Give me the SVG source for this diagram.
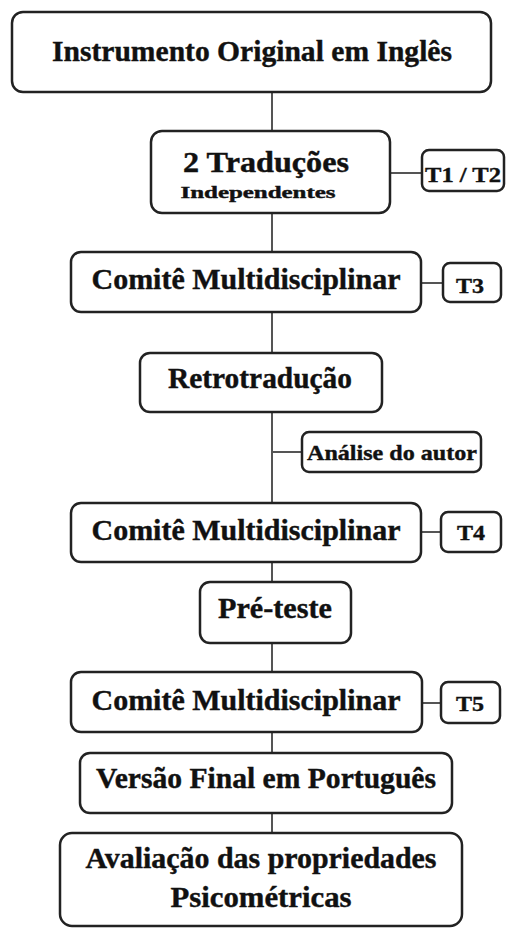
<svg xmlns="http://www.w3.org/2000/svg" width="507" height="929" viewBox="0 0 507 929">
<style>
.box{fill:#fff;stroke:#222;stroke-width:2.5}
.con{stroke:#555;stroke-width:2;fill:none}
</style>
<rect width="507" height="929" fill="#fff"/>
<g id="connectors">
<line class="con" x1="272" y1="92" x2="272" y2="131"/>
<line class="con" x1="272" y1="213" x2="272" y2="252"/>
<line class="con" x1="390" y1="173" x2="422" y2="173"/>
<line class="con" x1="421" y1="283" x2="443" y2="283"/>
<line class="con" x1="272" y1="312" x2="272" y2="353"/>
<line class="con" x1="272" y1="412" x2="272" y2="503"/>
<line class="con" x1="272" y1="452" x2="302" y2="452"/>
<line class="con" x1="421" y1="532" x2="441" y2="532"/>
<line class="con" x1="272" y1="562" x2="272" y2="582"/>
<line class="con" x1="272" y1="643" x2="272" y2="672"/>
<line class="con" x1="421" y1="703" x2="441" y2="703"/>
<line class="con" x1="272" y1="732" x2="272" y2="753"/>
<line class="con" x1="272" y1="813" x2="272" y2="833"/>
</g>
<g font-family="Liberation Serif" font-weight="bold" fill="#111" stroke="#111" stroke-width="0.4" text-anchor="middle">
<g id="n1"><rect class="box" x="12" y="12" width="479" height="80" rx="11"/><text x="252" y="61" font-size="30" textLength="400" lengthAdjust="spacingAndGlyphs">Instrumento Original em Inglês</text></g>
<g id="n2"><rect class="box" x="151" y="131" width="239" height="82" rx="11"/><text x="266" y="172" font-size="29" textLength="166" lengthAdjust="spacingAndGlyphs">2 Traduções</text><text x="258" y="198" font-size="16" textLength="155" lengthAdjust="spacingAndGlyphs">Independentes</text></g>
<g id="t12"><rect class="box" x="422" y="150" width="82" height="41" rx="7"/><text x="463" y="182" font-size="22" textLength="76" lengthAdjust="spacingAndGlyphs">T1 / T2</text></g>
<g id="n3"><rect class="box" x="71" y="252" width="350" height="60" rx="10"/><text x="246" y="289" font-size="29" textLength="309" lengthAdjust="spacingAndGlyphs">Comitê Multidisciplinar</text></g>
<g id="t3"><rect class="box" x="443" y="263" width="58" height="39" rx="7"/><text x="470" y="293" font-size="22" textLength="28" lengthAdjust="spacingAndGlyphs">T3</text></g>
<g id="n4"><rect class="box" x="140" y="353" width="242" height="59" rx="10"/><text x="260" y="388" font-size="29" textLength="184" lengthAdjust="spacingAndGlyphs">Retrotradução</text></g>
<g id="n5"><rect class="box" x="302" y="432" width="179" height="40" rx="7"/><text x="392" y="460" font-size="22" textLength="170" lengthAdjust="spacingAndGlyphs">Análise do autor</text></g>
<g id="n6"><rect class="box" x="71" y="503" width="350" height="59" rx="10"/><text x="246" y="540" font-size="29" textLength="309" lengthAdjust="spacingAndGlyphs">Comitê Multidisciplinar</text></g>
<g id="t4"><rect class="box" x="441" y="512" width="60" height="40" rx="7"/><text x="471" y="540" font-size="22" textLength="28" lengthAdjust="spacingAndGlyphs">T4</text></g>
<g id="n7"><rect class="box" x="200" y="582" width="151" height="61" rx="10"/><text x="275" y="618" font-size="29" textLength="114" lengthAdjust="spacingAndGlyphs">Pré-teste</text></g>
<g id="n8"><rect class="box" x="71" y="672" width="351" height="60" rx="10"/><text x="246" y="710" font-size="29" textLength="309" lengthAdjust="spacingAndGlyphs">Comitê Multidisciplinar</text></g>
<g id="t5"><rect class="box" x="441" y="682" width="59" height="41" rx="7"/><text x="470" y="711" font-size="22" textLength="28" lengthAdjust="spacingAndGlyphs">T5</text></g>
<g id="n9"><rect class="box" x="80" y="753" width="372" height="60" rx="10"/><text x="266" y="788" font-size="29" textLength="340" lengthAdjust="spacingAndGlyphs">Versão Final em Português</text></g>
<g id="n10"><rect class="box" x="60" y="833" width="402" height="93" rx="12"/><text x="261" y="868" font-size="29" textLength="351" lengthAdjust="spacingAndGlyphs">Avaliação das propriedades</text><text x="261" y="907" font-size="29" textLength="181" lengthAdjust="spacingAndGlyphs">Psicométricas</text></g>
</g>
</svg>
